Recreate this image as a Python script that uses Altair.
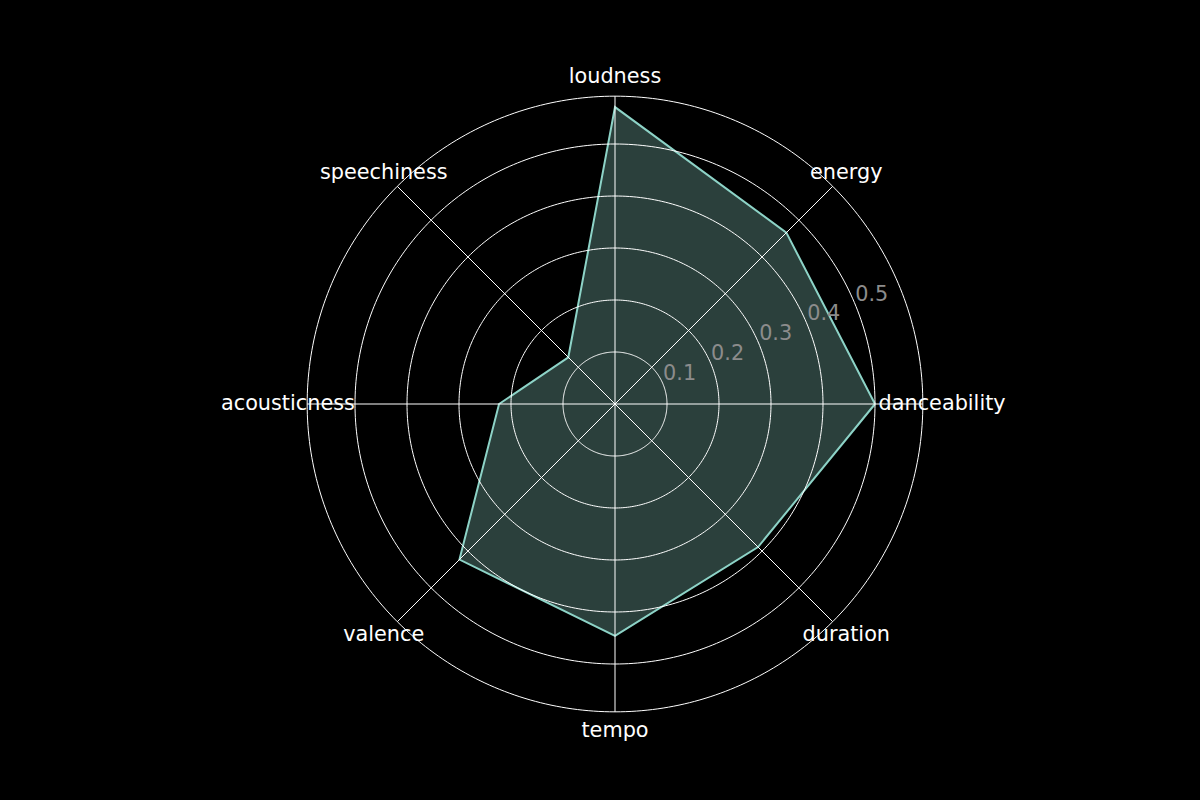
import altair as alt
import pandas as pd
import numpy as np

categories = ["danceability", "energy", "loudness", "speechiness",
              "acousticness", "valence", "tempo", "duration"]
values = [0.50, 0.466, 0.571, 0.127, 0.223, 0.423, 0.446, 0.389]
ring_values = [0.1, 0.2, 0.3, 0.4, 0.5]
ring_labels = ["0.1", "0.2", "0.3", "0.4", "0.5"]
r_max = 0.592

N = len(categories)
PX = 520.0  # pixels per unit
W, H = 1200, 800
CX, CY = 615, 404

xs = alt.Scale(domain=[-CX / PX, (W - CX) / PX], nice=False, zero=False)
ys = alt.Scale(domain=[-(H - CY) / PX, CY / PX], nice=False, zero=False)
X = lambda f: alt.X(f, type="quantitative", scale=xs, axis=None)
Y = lambda f: alt.Y(f, type="quantitative", scale=ys, axis=None)

# polygon data (closed)
poly = pd.DataFrame({
    "i": list(range(N)) + [N],
    "cat": categories + [categories[0]],
    "v": values + [values[0]],
})
poly_chart = alt.Chart(poly).transform_calculate(
    a=f"datum.i*2*PI/{N}"
).transform_calculate(
    x="datum.v*cos(datum.a)", y="datum.v*sin(datum.a)"
).mark_line(
    stroke="#8dd3c7", strokeWidth=2, fill="#8dd3c7", fillOpacity=0.3
).encode(x=X("x"), y=Y("y"), order="i:Q")

# grid circles
rows = []
for r in ring_values + [r_max]:
    for k in range(361):
        rows.append({"r": r, "k": k})
grid = pd.DataFrame(rows)
circles = alt.Chart(grid).transform_calculate(
    x="datum.r*cos(datum.k*PI/180)", y="datum.r*sin(datum.k*PI/180)"
).mark_line(stroke="white", strokeWidth=1).encode(
    x=X("x"), y=Y("y"), detail="r:N", order="k:Q")

# spokes
spoke_df = pd.DataFrame({"i": list(range(N))})
spokes = alt.Chart(spoke_df).transform_calculate(
    a=f"datum.i*2*PI/{N}"
).transform_calculate(
    x="0", y="0", x2=f"{r_max}*cos(datum.a)", y2=f"{r_max}*sin(datum.a)"
).mark_rule(stroke="white", strokeWidth=1).encode(
    x=X("x"), y=Y("y"), x2="x2:Q", y2="y2:Q")

# category labels
lab_df = pd.DataFrame({"i": list(range(N)), "cat": categories})
cat_labels = alt.Chart(lab_df).transform_calculate(
    a=f"datum.i*2*PI/{N}"
).transform_calculate(
    x="0.629*cos(datum.a)", y="0.629*sin(datum.a)"
).mark_text(
    color="white", fontSize=20.8, font="DejaVu Sans", align="center", baseline="middle"
).encode(x=X("x"), y=Y("y"), text="cat:N")

# radial labels
rl_df = pd.DataFrame({"r": ring_values, "t": ring_labels})
r_labels = alt.Chart(rl_df).transform_calculate(
    x="datum.r*cos(PI/8)", y="datum.r*sin(PI/8)"
).mark_text(
    color="#8c8c8c", fontSize=20.8, font="DejaVu Sans", align="left",
    baseline="alphabetic", dy=-4
).encode(x=X("x"), y=Y("y"), text="t:N")

chart = alt.layer(poly_chart, circles, spokes, cat_labels, r_labels).properties(
    width=W, height=H, background="black", padding=0,
    autosize=alt.AutoSizeParams(type="none")
).configure_view(stroke=None)

chart.save("out.html", embed_options={"renderer": "svg", "actions": False})
